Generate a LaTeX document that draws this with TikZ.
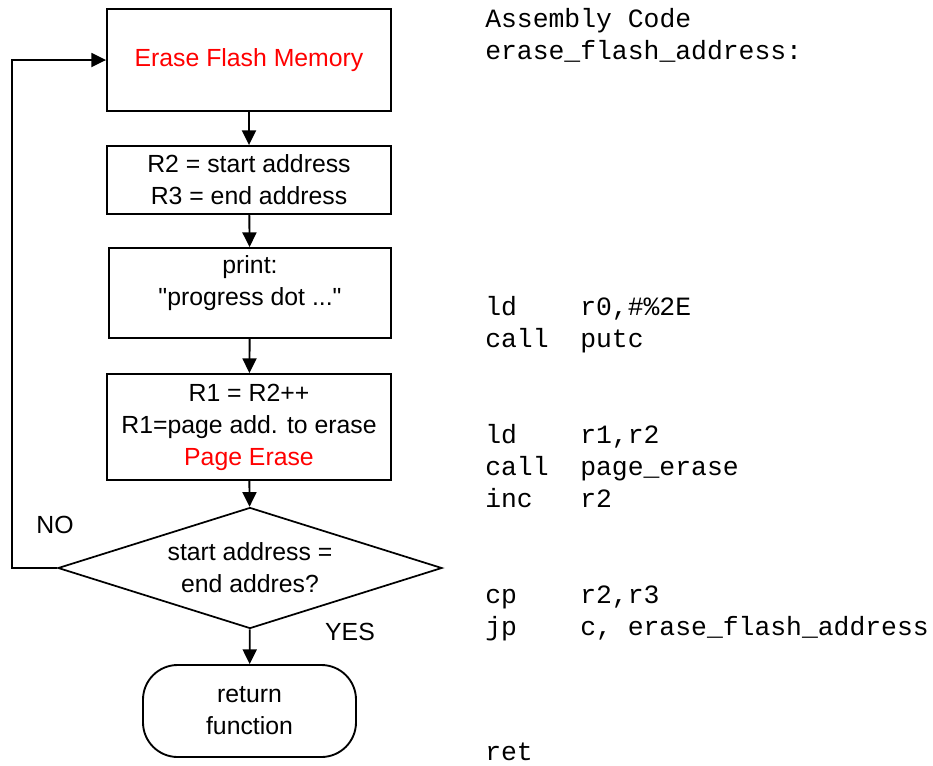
\documentclass[tikz,border=0pt]{standalone}
\usepackage{fontspec}
\setmainfont{Liberation Sans}[Ligatures=TeXOff]
\newfontfamily\codefont{Liberation Mono}[Ligatures=TeXOff]
\usetikzlibrary{arrows.meta,shapes.geometric}
\newdimen\pxu \pxu=0.75pt
\newcommand\opcol[2]{\makebox[3.6em][l]{#1}#2}
\tikzset{
  flow/.style={line width=1.4pt, -{Triangle[length=11pt,width=10.5pt]}},
  stepbox/.style={draw, line width=1.4pt, align=center, inner sep=0pt,
    font=\fontsize{18.6}{24}\selectfont},
  decision/.style={draw, diamond, aspect=3.17, line width=1.3pt, align=center, inner sep=0pt,
    minimum width=384\pxu, minimum height=121\pxu,
    font=\fontsize{18.6}{24}\selectfont},
  terminal/.style={draw, line width=1.4pt, rounded corners=26pt, align=center,
    inner sep=0pt, minimum width=213\pxu, minimum height=92\pxu,
    font=\fontsize{18.6}{24}\selectfont},
  tag/.style={font=\fontsize{18.6}{24}\selectfont, inner sep=0pt},
  code/.style={font=\codefont\fontsize{19.8}{24}\selectfont, anchor=base west, inner sep=0pt},
}
\begin{document}
\begin{tikzpicture}[x=0.75pt, y=-0.75pt]
\useasboundingbox (0,0) rectangle (933,765);

% flowchart
\node[stepbox, minimum width=284\pxu, minimum height=102\pxu, text=red] (b1) at (249,60) {Erase Flash Memory};
\node[stepbox, minimum width=284\pxu, minimum height=68\pxu] (b2) at (249,180) {R2 = start address\\R3 = end address};
\node[stepbox, minimum width=282\pxu, minimum height=90\pxu, text depth=19pt] (b3) at (250,293) {print:\\"progress dot ..."};
\node[stepbox, minimum width=284\pxu, minimum height=106\pxu] (b4) at (249,427) {R1 = R2++\\R1=page add. to erase\\\textcolor{red}{Page Erase}};
\node[decision] (dec) at (250,568) {start address =\\end addres?};
\node[terminal] (ret) at (249.5,711) {return\\function};

\draw[flow] (b1) -- (b2);
\draw[flow] (b2) -- (b3);
\draw[flow] (b3) -- (b4);
\draw[flow] (b4) -- (dec);
\draw[flow] (dec) -- (ret);
\draw[flow] (dec.west) -- ++(-45,0) |- (b1.west);

\node[tag] (no) at (55,525) {NO};
\node[tag] (yes) at (350,632) {YES};

% assembly listing
\node[code] (l0) at (485,27) {Assembly Code};
\node[code] (l1) at (485,59) {erase\_flash\_address:};
\node[code] (l2) at (485,315) {\opcol{ld}{r0,\#\%2E}};
\node[code] (l3) at (485,347) {\opcol{call}{putc}};
\node[code] (l4) at (485,443) {\opcol{ld}{r1,r2}};
\node[code] (l5) at (485,475) {\opcol{call}{page\_erase}};
\node[code] (l6) at (485,507) {\opcol{inc}{r2}};
\node[code] (l7) at (485,603) {\opcol{cp}{r2,r3}};
\node[code] (l8) at (485,635) {\opcol{jp}{c, erase\_flash\_address}};
\node[code] (l9) at (485,760) {ret};
\end{tikzpicture}
\end{document}
